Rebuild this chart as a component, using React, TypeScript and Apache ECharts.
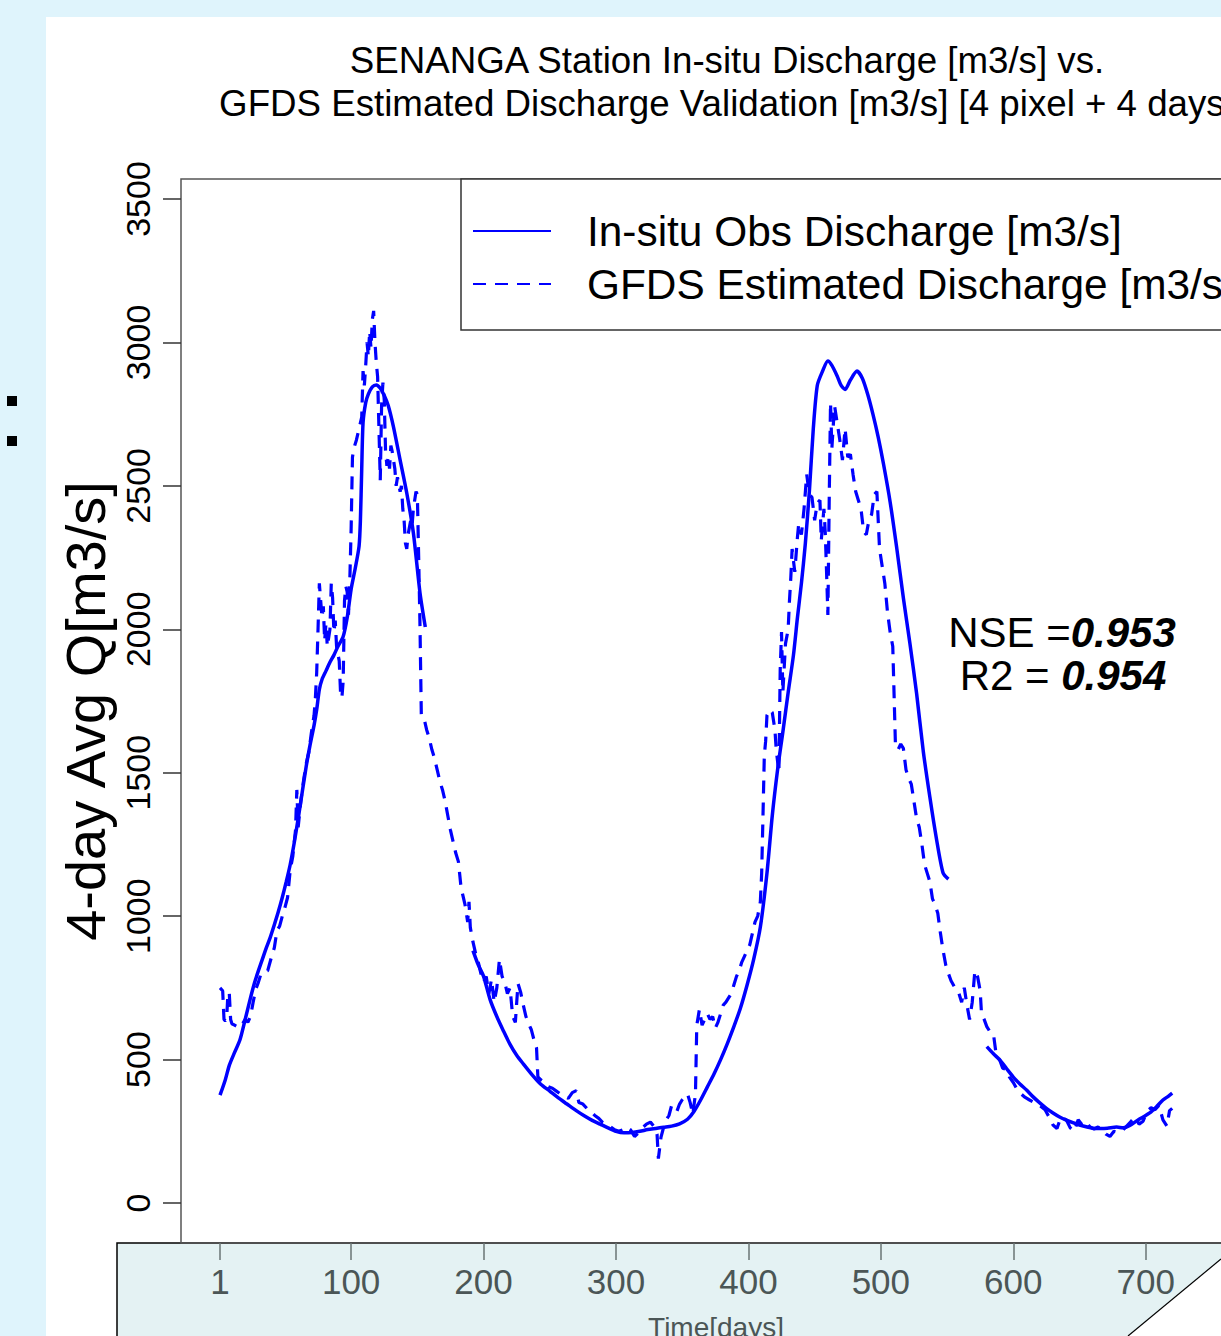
import React, { useEffect, useRef } from "react";
import * as echarts from "echarts";

const FONT = "'Liberation Sans', Arial, sans-serif";

const xTicks = [1, 100, 200, 300, 400, 500, 600, 700];
const yTicks = [0, 500, 1000, 1500, 2000, 2500, 3000, 3500];

const seriesNames = ["In-situ Obs Discharge [m3/s]", "GFDS Estimated Discharge [m3/s]"];
const titleLines = [
  "SENANGA Station In-situ Discharge [m3/s] vs.",
  "GFDS Estimated Discharge Validation [m3/s] [4 pixel + 4 days]",
];
const statLabels = ["NSE =", "R2 ="];
const statValues = ["0.953", "0.954"];
const xName = "Time[days]";
const yName = "4-day Avg Q[m3/s]";

// In-situ observed discharge (null = missing observations)
const obsDays = [
  1, 5, 8, 12, 16, 20, 24, 27, 30, 33, 36, 39, 42, 45, 48, 51, 54, 57, 60, 63, 66, 69, 72, 74, 76, 78, 81, 84, 87, 90,
  94, 97, 100, 103, 106, 107, 108, 109, 111, 113, 116, 119, 122, 125, 128, 132, 137, 142, 147, 152, 156,
  170,
  192, 196, 200, 205, 210, 215, 220, 225, 230, 237, 243, 250, 256, 263, 270, 276, 282, 288, 294, 300, 306, 312, 318,
  324, 330, 336, 342, 348, 354, 359, 364, 369, 374, 379, 384, 389, 394, 399, 404, 409, 414, 418, 422, 426, 430, 434,
  437, 440, 443, 446, 449, 452, 456, 460, 463, 467, 470, 473, 477, 482, 486, 490, 494, 498, 502, 507, 512, 517, 522,
  527, 532, 537, 542, 547, 551,
  565,
  580, 585, 590, 595, 600, 605, 610, 615, 620, 625, 630, 635, 640, 645, 650, 655, 660, 666, 671, 678, 683, 688, 694,
  698, 703, 708, 713, 717, 720,
];
const obsValues = [
  376, 430, 480, 525, 568, 640, 715, 767, 810, 850, 890, 927, 970, 1015, 1065, 1120, 1180, 1255, 1340, 1430, 1520,
  1597, 1665, 1720, 1790, 1825, 1855, 1885, 1910, 1940, 1975, 2040, 2140, 2210, 2290, 2380, 2560, 2720, 2790, 2820,
  2845, 2852, 2840, 2815, 2780, 2705, 2590, 2475, 2336, 2127, 2008,
  null,
  880, 830, 790, 708, 650, 600, 553, 515, 485, 445, 415, 390, 368, 345, 322, 304, 288, 275, 262, 250, 245, 246, 250,
  256, 260, 264, 268, 276, 292, 320, 360, 405, 450, 500, 555, 615, 680, 760, 850, 962, 1150, 1350, 1510, 1642, 1780,
  1910, 2040, 2160, 2300, 2480, 2700, 2850, 2900, 2935, 2920, 2883, 2850, 2836, 2869, 2900, 2875, 2820, 2750, 2670,
  2576, 2444, 2283, 2109, 1949, 1776, 1576, 1415, 1269, 1150, 1129,
  null,
  545, 520, 498, 468, 439, 415, 394, 370, 349, 330, 314, 300, 289, 280, 272, 266, 261, 260, 261, 265, 262, 270, 289,
  300, 314, 335, 359, 372, 383,
];

// GFDS estimated discharge
const gfdsDays = [
  1, 2, 3, 4, 5, 6, 7, 8, 9, 10, 12, 14, 16, 18, 20, 22, 24, 26, 28, 30, 32, 34, 37, 40, 42, 44, 46, 48, 50, 52, 54,
  56, 58, 59, 60, 62, 64, 66, 68, 70, 72, 73, 74, 75, 76, 77, 78, 79, 80, 81, 82, 84, 85, 86, 87, 88, 89, 91, 92, 93,
  94, 95, 96, 97, 98, 99, 100, 101, 102, 104, 106, 108, 109, 110, 111, 112, 113, 114, 115, 116, 117, 118, 119, 120,
  121, 122, 123, 124, 125, 126, 127, 128, 129, 130, 131, 133, 134, 135, 137, 138, 139, 140, 141, 142, 143, 145, 146,
  147, 149, 150, 151, 152, 153, 155, 157, 159, 161, 163, 165, 167, 169, 171, 173, 175, 177, 179, 181, 183, 184, 186,
  188, 189, 190, 192, 194, 196, 198, 200, 202, 204, 206, 208, 210, 212, 214, 216, 218, 220, 222, 224, 226, 228, 230,
  232, 234, 236, 238, 240, 241, 243, 246, 249, 252, 255, 258, 261, 264, 267, 270, 272, 275, 278, 281, 284, 287, 290,
  293, 296, 299, 302, 305, 308, 311, 314, 317, 320, 323, 326, 329, 331, 332, 334, 336, 338, 340, 342, 344, 346, 348,
  350, 352, 354, 356, 358, 360, 361, 363, 365, 367, 369, 371, 373, 375, 377, 379, 381, 383, 385, 387, 389, 391, 393,
  395, 397, 399, 401, 403, 405, 407, 409, 410, 411, 412, 413, 414, 416, 418, 420, 421, 423, 424, 425, 426, 428, 430,
  431, 432, 433, 435, 437, 438, 440, 442, 444, 446, 448, 450, 452, 454, 455, 457, 458, 459, 460, 461, 462, 463, 465,
  467, 469, 471, 473, 475, 477, 479, 481, 483, 485, 487, 489, 491, 493, 495, 497, 499, 501, 503, 505, 507, 509, 511,
  513, 515, 517, 519, 521, 523, 525, 527, 529, 531, 533, 535, 537, 539, 541, 543, 545, 547, 549, 551, 553, 556, 559,
  561, 563, 565, 567, 569, 571, 573, 575, 576, 578, 580, 582, 585, 587, 590, 592, 595, 597, 600, 603, 606, 609, 612,
  616, 620, 624, 627, 630, 633, 636, 640, 643, 646, 649, 652, 655, 658, 661, 664, 667, 670, 673, 676, 680, 683, 686,
  689, 692, 695, 698, 701, 704, 707, 710, 713, 716, 718, 720,
];
const gfdsValues = [
  750, 745, 740, 640, 635, 640, 735, 730, 640, 625, 620, 615, 612, 625, 640, 630, 650, 700, 745, 770, 800, 805, 810,
  860, 890, 950, 965, 1000, 1030, 1065, 1160, 1210, 1300, 1440, 1310, 1400, 1470, 1530, 1570, 1640, 1700, 1760, 1850,
  2000, 2160, 2100, 2040, 2080, 1960, 2020, 1940, 2000, 2160, 2110, 1990, 2030, 1940, 1890, 1780, 1760, 1820, 2100,
  2150, 2130, 2050, 2170, 2350, 2600, 2630, 2660, 2700, 2740, 2900, 2850, 2920, 3000, 2950, 3040, 2980, 3080, 3110,
  3000, 2930, 2880, 2700, 2520, 2780, 2860, 2800, 2620, 2570, 2600, 2560, 2640, 2620, 2560, 2500, 2530, 2480, 2500,
  2420, 2380, 2300, 2280, 2330, 2380, 2360, 2420, 2480, 2470, 2250, 2010, 1700, 1690, 1650, 1620, 1580, 1550, 1510,
  1470, 1440, 1400, 1350, 1300, 1260, 1220, 1190, 1100, 1080, 1040, 980, 1050, 960, 910, 870, 840, 800, 770, 790, 730,
  780, 700, 750, 850, 790, 770, 730, 750, 650, 630, 765, 735, 690, 650, 625, 605, 570, 540, 440, 430, 420, 405, 400,
  390, 380, 370, 365, 385, 392, 350, 345, 330, 320, 305, 295, 280, 275, 265, 255, 250, 255, 265, 255, 232, 245, 262,
  275, 282, 265, 240, 155, 230, 265, 290, 305, 340, 330, 320, 345, 360, 370, 380, 350, 310, 380, 620, 675, 620, 640,
  660, 640, 650, 610, 630, 660, 690, 700, 715, 730, 760, 790, 810, 840, 860, 880, 900, 940, 980, 1000, 1050, 1150,
  1350, 1560, 1610, 1700, 1720, 1710, 1650, 1580, 1500, 1860, 1990, 1780, 1950, 2000, 2100, 2180, 2280, 2200, 2320,
  2370, 2330, 2420, 2540, 2470, 2460, 2380, 2440, 2450, 2310, 2420, 2340, 2200, 2050, 2450, 2790, 2630, 2780, 2720,
  2660, 2590, 2700, 2600, 2610, 2540, 2480, 2450, 2420, 2340, 2330, 2380, 2400, 2470, 2480, 2280, 2220, 2160, 2060,
  1990, 1940, 1600, 1580, 1600, 1585, 1510, 1480, 1460, 1400, 1340, 1310, 1250, 1180, 1150, 1120, 1060, 1040, 1010,
  940, 880, 830, 800, 775, 750, 730, 700, 750, 690, 640, 700, 810, 790, 740, 660, 640, 615, 600, 590, 520, 495, 470,
  465, 440, 420, 395, 380, 368, 360, 350, 340, 325, 300, 272, 260, 300, 290, 262, 250, 290, 272, 282, 265, 258, 265,
  255, 240, 232, 250, 245, 255, 270, 285, 300, 275, 285, 320, 332, 325, 340, 290, 268, 322, 330,
];

export default function App() {
  const ref = useRef<HTMLDivElement>(null);

  useEffect(() => {
    document.body.style.margin = "0";
    const chart = echarts.init(ref.current as HTMLDivElement, null, { renderer: "svg" });

    const obsData = obsDays.map((d, i) => [d, obsValues[i]]);
    const gfdsData = gfdsDays.map((d, i) => [d, gfdsValues[i]]);

    const statRich = {
      a: { fontSize: 42, fontFamily: FONT, fill: "#000", color: "#000" },
      b: { fontSize: 42, fontFamily: FONT, fill: "#000", color: "#000", fontWeight: "bold", fontStyle: "italic" },
    };

    const option: any = {
      animation: false,
      backgroundColor: "#dff4fc",
      textStyle: { fontFamily: FONT },
      grid: {
        left: 181,
        top: 179,
        right: -30,
        bottom: 93,
        show: true,
        borderColor: "#555",
        borderWidth: 1.5,
        backgroundColor: "transparent",
        containLabel: false,
        outerBoundsMode: "none",
      },
      legend: {
        data: seriesNames,
        orient: "vertical",
        left: 472,
        top: 210,
        padding: 0,
        itemWidth: 78,
        itemHeight: 14,
        itemGap: 11,
        selectedMode: false,
        itemStyle: { opacity: 0 },
        textStyle: { fontSize: 42.4, color: "#000", fontFamily: FONT, lineHeight: 40, padding: [0, 0, 0, 31] },
        z: 5,
      },
      xAxis: {
        type: "value",
        min: -28.47,
        max: 779.5,
        axisLine: { show: false, onZero: false },
        splitLine: { show: false },
        axisTick: {
          show: true,
          customValues: xTicks,
          length: 17,
          lineStyle: { color: "#6a7474", width: 1.5 },
        },
        axisLabel: {
          customValues: xTicks,
          fontSize: 35,
          color: "#4b5656",
          margin: 21,
          fontFamily: FONT,
          formatter: (v: number) => String(v),
        },
        name: xName,
        nameLocation: "middle",
        nameGap: 70,
        nameTextStyle: { fontSize: 28, color: "#4b5656", fontFamily: FONT },
      },
      yAxis: {
        type: "value",
        min: -139.4,
        max: 3569.7,
        axisLine: { show: false, onZero: false },
        splitLine: { show: false },
        axisTick: {
          show: true,
          customValues: yTicks,
          length: 18,
          lineStyle: { color: "#333", width: 1.5 },
        },
        axisLabel: {
          customValues: yTicks,
          rotate: 90,
          fontSize: 34,
          color: "#000",
          margin: 26,
          fontFamily: FONT,
          formatter: (v: number) => String(v),
        },
        name: yName,
        nameLocation: "middle",
        nameRotate: 90,
        nameGap: 58,
        nameTextStyle: { fontSize: 56, color: "#000", fontFamily: FONT },
      },
      series: [
        {
          name: seriesNames[0],
          type: "line",
          data: obsData,
          symbol: "none",
          showSymbol: false,
          smooth: 0.25,
          connectNulls: false,
          lineStyle: { color: "#0000ff", width: 3.5 },
          itemStyle: { color: "#0000ff" },
          z: 3,
        },
        {
          name: seriesNames[1],
          type: "line",
          data: gfdsData,
          symbol: "none",
          showSymbol: false,
          lineStyle: { color: "#0000ff", width: 3.2, type: [13, 9] },
          itemStyle: { color: "#0000ff" },
          z: 2,
        },
      ],
      graphic: [
        { type: "rect", z: -10, shape: { x: 46, y: 17, width: 1200, height: 1330 }, style: { fill: "#ffffff" } },
        {
          type: "rect",
          z: -9,
          shape: { x: 117, y: 1243, width: 1130, height: 110 },
          style: { fill: "#e4f2f3", stroke: "#000", lineWidth: 1.5 },
        },
        {
          type: "polygon",
          z: -8,
          shape: { points: [[1221, 1259], [1230, 1259], [1230, 1340], [1128, 1340], [1128, 1336]] },
          style: { fill: "#ffffff" },
        },
        {
          type: "line",
          z: -7,
          shape: { x1: 1221, y1: 1259, x2: 1128, y2: 1336 },
          style: { stroke: "#000", lineWidth: 1.2 },
        },
        { type: "rect", z: -7, shape: { x: 7, y: 396, width: 10, height: 10 }, style: { fill: "#000" } },
        { type: "rect", z: -7, shape: { x: 7, y: 436, width: 10, height: 10 }, style: { fill: "#000" } },
        {
          type: "rect",
          z: 1,
          shape: { x: 461, y: 179, width: 800, height: 151 },
          style: { fill: "#ffffff", stroke: "#333", lineWidth: 1.5 },
        },
        {
          type: "text",
          z: 10,
          x: 727,
          y: 60,
          style: { text: titleLines[0], fontSize: 36.7, fontFamily: FONT, fill: "#000", align: "center", verticalAlign: "middle" },
        },
        {
          type: "text",
          z: 10,
          x: 727,
          y: 103,
          style: { text: titleLines[1], fontSize: 36.7, fontFamily: FONT, fill: "#000", align: "center", verticalAlign: "middle" },
        },
        {
          type: "text",
          z: 10,
          x: 1062,
          y: 632,
          style: {
            text: "{a|" + statLabels[0] + "}{b|" + statValues[0] + "}",
            align: "center",
            verticalAlign: "middle",
            rich: statRich,
          },
        },
        {
          type: "text",
          z: 10,
          x: 1063,
          y: 675,
          style: {
            text: "{a|" + statLabels[1] + " }{b|" + statValues[1] + "}",
            align: "center",
            verticalAlign: "middle",
            rich: statRich,
          },
        },
      ],
    };

    chart.setOption(option);
    return () => chart.dispose();
  }, []);

  return <div ref={ref} style={{ width: 1221, height: 1336 }} />;
}
